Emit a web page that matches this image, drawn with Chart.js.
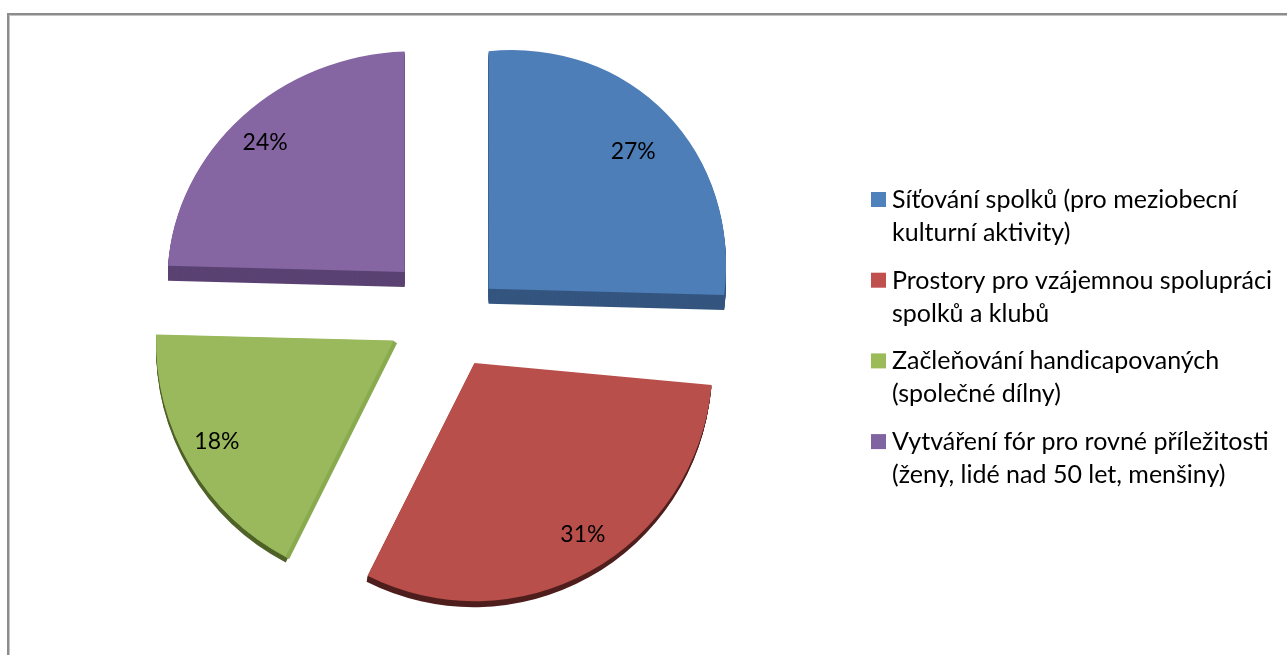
<!DOCTYPE html>
<html><head><meta charset="utf-8">
<style>html,body{margin:0;padding:0;background:#fff}canvas{display:block}</style>
<script src="https://cdn.jsdelivr.net/npm/chart.js@4"></script></head>
<body><canvas id="c" width="1287" height="655"></canvas>
<script>
const categories = ["Síťování spolků (pro meziobecní kulturní aktivity)","Prostory pro vzájemnou spolupráci spolků a klubů","Začleňování handicapovaných (společné dílny)","Vytváření fór pro rovné příležitosti (ženy, lidé nad 50 let, menšiny)"];
const legendLines = [["Síťování spolků (pro meziobecní","kulturní aktivity)"],["Prostory pro vzájemnou spolupráci","spolků a klubů"],["Začleňování handicapovaných","(společné dílny)"],["Vytváření fór pro rovné příležitosti","(ženy, lidé nad 50 let, menšiny)"]];
const values = [27,31,18,24];
const colors = ["#4F81BD","#C0504D","#9BBB59","#8064A2"];
const topColors = ["#4d7eb8","#b84f4a","#9ab95c","#8566a3"];
const sideColors = ["#34557f","#4f1f1d","#4f6228","#5a4273"];
const FONT = "Lato, Carlito, sans-serif";
// per-slice visual tuning for the pseudo-3D perspective look
const nudge = [[-1,14],[3,1],[-3,-5],[-5,-8]];
const extrude = [[0,15],[-1,6],[0,6],[0,15]];
const shape = [{rot:2,k:-0.1,sx:1,sy:1},{rot:0,k:0,sx:0.99,sy:0.99},{rot:0,k:0,sx:0.98,sy:1},{rot:2,k:-0.033,sx:1,sy:0.93}];
const labelPos = [[12,-12],[20,12],[-20,8],[-10,-1]];

function drawShaped(ctx,arc,area,i){
  const a=(arc.startAngle+arc.endAngle)/2, o=arc.options.offset/4;
  const ax=arc.x+Math.cos(a)*o, ay=arc.y+Math.sin(a)*o, s=shape[i];
  ctx.translate(ax,ay);
  ctx.transform(s.sx,s.k,0,s.sy,0,0);
  ctx.rotate(s.rot*Math.PI/180);
  ctx.translate(-ax,-ay);
  arc.draw(ctx,area);
}
const pseudo3d = {
  id:'pseudo3d',
  beforeDatasetDraw(chart,args){
    const ctx=chart.ctx, meta=args.meta, area=chart.chartArea;
    meta.data.forEach((arc,i)=>{
      const base=arc.options;
      ctx.save();
      ctx.translate(nudge[i][0],nudge[i][1]);
      const e=extrude[i];
      arc.options=Object.create(base); arc.options.backgroundColor=sideColors[i];
      const n=Math.max(Math.abs(e[0]),Math.abs(e[1]));
      for(let s=n;s>=1;s--){ctx.save();ctx.translate(e[0]*s/n,e[1]*s/n);drawShaped(ctx,arc,area,i);ctx.restore();}
      if(i===2){
        arc.options=Object.create(base); arc.options.backgroundColor="#8aaa50";
        for(let s=1;s<=5;s++){ctx.save();ctx.translate(s*0.7,s*0.5);drawShaped(ctx,arc,area,i);ctx.restore();}
      }
      arc.options=base;
      ctx.save();drawShaped(ctx,arc,area,i);ctx.restore();
      ctx.restore();
    });
    return false;
  },
  afterDraw(chart){
    const ctx=chart.ctx;
    ctx.save();
    ctx.fillStyle="#8c8c8c";
    ctx.fillRect(7,13,1280,2);
    ctx.fillRect(7,13,2,642);
    ctx.fillStyle="#c4c4c4";
    ctx.fillRect(9,15,1278,1);
    ctx.fillRect(9,15,1,640);
    const total=values.reduce((a,b)=>a+b,0);
    ctx.font="23px "+FONT;ctx.fillStyle="#000";ctx.textAlign="center";ctx.textBaseline="middle";
    chart.getDatasetMeta(0).data.forEach((arc,i)=>{
      const a=(arc.startAngle+arc.endAngle)/2, o=arc.options.offset/4;
      const r=arc.outerRadius*0.77+o;
      const x=arc.x+Math.cos(a)*r+nudge[i][0]+labelPos[i][0];
      const y=arc.y+Math.sin(a)*r+nudge[i][1]+labelPos[i][1];
      ctx.fillText(Math.round(values[i]/total*100)+"%",x,y);
    });
    ctx.font="25px "+FONT;
    ctx.textAlign="left";ctx.textBaseline="alphabetic";
    const lx=892, startY=208, lh=33, gap=80.7;
    legendLines.forEach((ls,i)=>{
      const y=startY+gap*i;
      ctx.fillStyle=colors[i];ctx.fillRect(871,y-16,15,15);
      ctx.fillStyle="#000";
      ls.forEach((t,j)=>ctx.fillText(t,lx,y+j*lh));
    });
    ctx.restore();
  }
};
new Chart(document.getElementById('c'),{
  type:'pie',
  data:{labels:categories,datasets:[{data:values,backgroundColor:topColors,borderWidth:0,offset:[240,210,230,205],radius:237}]},
  options:{responsive:false,animation:false,rotation:-2,
    layout:{padding:{left:0,right:395,top:0,bottom:23}},
    plugins:{legend:{display:false},tooltip:{enabled:false}},events:[]},
  plugins:[pseudo3d]
});
</script></body></html>
